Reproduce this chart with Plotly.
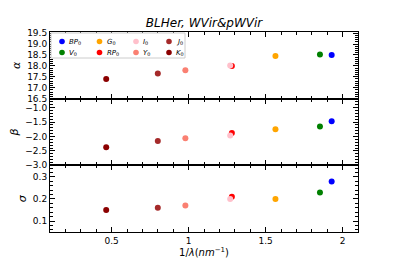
import plotly.graph_objects as go
from plotly.subplots import make_subplots

bands = ["BP0", "V0", "G0", "RP0", "I0", "Y0", "J0", "K0"]
band_labels = ["<i>BP</i><sub>0</sub>", "<i>V</i><sub>0</sub>", "<i>G</i><sub>0</sub>", "<i>RP</i><sub>0</sub>",
               "<i>I</i><sub>0</sub>", "<i>Y</i><sub>0</sub>", "<i>J</i><sub>0</sub>", "<i>K</i><sub>0</sub>"]
colors = ["blue", "green", "orange", "red", "pink", "salmon", "brown", "darkred"]
inv_wavelength = [1.929, 1.853, 1.564, 1.281, 1.270, 0.979, 0.800, 0.465]
alpha = [18.50, 18.52, 18.45, 18.00, 18.02, 17.80, 17.65, 17.40]
beta = [-1.47, -1.65, -1.75, -1.88, -1.97, -2.06, -2.16, -2.37]
sigma = [0.28, 0.23, 0.20, 0.21, 0.20, 0.17, 0.16, 0.15]

fig = make_subplots(rows=3, cols=1, shared_xaxes=True, vertical_spacing=0)

for i, b in enumerate(bands):
    for r, vals in enumerate([alpha, beta, sigma], start=1):
        fig.add_trace(go.Scatter(
            x=[inv_wavelength[i]], y=[vals[i]], mode="markers",
            marker=dict(color=colors[i], size=6),
            name=band_labels[i], showlegend=False),
            row=r, col=1)

font = dict(family="DejaVu Sans", size=9, color="black")
axcommon = dict(showline=True, linecolor="black", linewidth=1, mirror="allticks",
                ticks="inside", ticklen=5, tickwidth=1, tickcolor="black",
                showgrid=False, zeroline=False, tickfont=font, automargin=False,
                minor=dict(ticks="inside", ticklen=3, tickcolor="black", showgrid=False))

for r in range(1, 4):
    fig.update_xaxes(range=[0.1, 2.1], dtick=0.5, tick0=0.5, minor_dtick=0.1,
                     showticklabels=(r == 3), row=r, col=1, **axcommon)

fig.update_xaxes(title=dict(text="1/<i>λ</i>(<i>nm</i><sup>−1</sup>)", font=dict(family="DejaVu Sans", size=10),
                            standoff=2), row=3, col=1)

fig.update_yaxes(range=[16.5, 19.55], dtick=0.5, tick0=16.5, minor_dtick=0.1,
                 tickformat=".1f", row=1, col=1, **axcommon)
fig.update_yaxes(range=[-3.0, -0.69], dtick=0.5, tick0=-3.0, minor_dtick=0.1,
                 tickformat=".1f", row=2, col=1, **axcommon)
fig.update_yaxes(range=[0.05, 0.353], dtick=0.1, tick0=0.1, minor_dtick=0.02,
                 tickformat=".1f", row=3, col=1, **axcommon)

fig.update_yaxes(title=dict(text="<i>α</i>", font=dict(family="DejaVu Sans", size=11), standoff=4), row=1, col=1)
fig.update_yaxes(title=dict(text="<i>β</i>", font=dict(family="DejaVu Sans", size=11), standoff=4), row=2, col=1)
fig.update_yaxes(title=dict(text="<i>σ</i>", font=dict(family="DejaVu Sans", size=11), standoff=4), row=3, col=1)

# manual legend (4 columns x 2 rows, column-major order) in paper coordinates
L, T, W, H = 50, 32, 308, 200
def px2paper(px, py):
    return (px - L) / W, (T + H - py) / H

shapes = []
annotations = []
bx0, by0 = px2paper(51, 33)
bx1, by1 = px2paper(185, 58)
shapes.append(dict(type="rect", xref="paper", yref="paper", x0=bx0, y0=by0, x1=bx1, y1=by1,
                   fillcolor="white", line=dict(color="#cccccc", width=1), layer="above"))
col_x = [62, 99.5, 136, 169]
row_y = [41.5, 52.5]
for i, lab in enumerate(band_labels):
    c, rr = divmod(i, 2)
    mx, my = px2paper(col_x[c], row_y[rr])
    shapes.append(dict(type="circle", xref="paper", yref="paper", xsizemode="pixel", ysizemode="pixel",
                       xanchor=mx, yanchor=my, x0=-2.8, x1=2.8, y0=-2.8, y1=2.8,
                       fillcolor=colors[i], line=dict(color=colors[i], width=0), layer="above"))
    annotations.append(dict(text=lab, xref="paper", yref="paper", x=mx + 5 / W, y=my,
                            xanchor="left", yanchor="middle", showarrow=False,
                            font=dict(family="DejaVu Sans", size=7, color="black")))

fig.update_layout(
    width=399, height=266,
    margin=dict(l=50, r=41, t=32, b=34),
    plot_bgcolor="white", paper_bgcolor="white",
    font=font,
    title=dict(text="<i>BLHer, WVir&pWVir</i>", x=0.5115, xanchor="center", y=0.915, yanchor="middle",
               font=dict(family="DejaVu Sans", size=12)),
    showlegend=False,
    shapes=shapes,
    annotations=annotations,
)

fig.write_html("out.html", config={"displayModeBar": False},
               post_script="document.body.style.margin='0';document.body.style.overflow='hidden';")
